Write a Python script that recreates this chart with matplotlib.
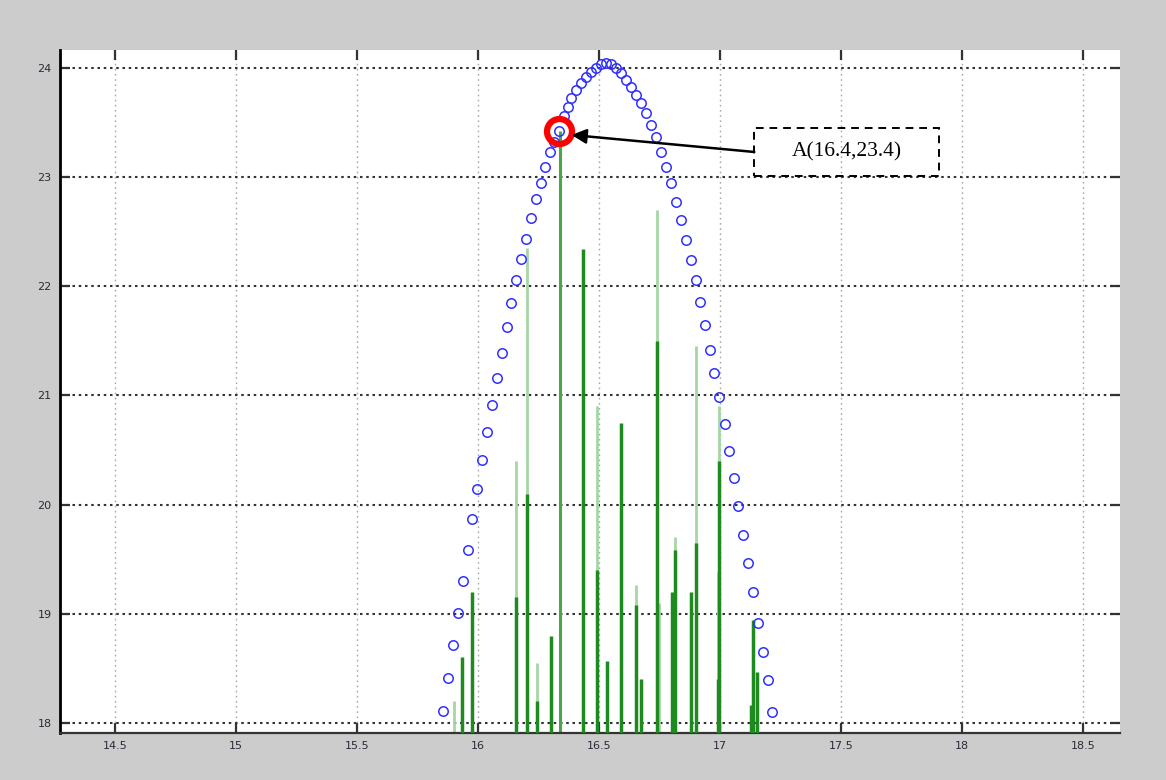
import numpy as np
import matplotlib
matplotlib.use('Agg')
import matplotlib.pyplot as plt
from matplotlib.patches import Rectangle

# blue circles
circ_x = [15.856, 15.876, 15.897, 15.917, 15.938, 15.959, 15.977, 15.998, 16.018, 16.039,
          16.059, 16.080, 16.100, 16.120, 16.138, 16.159, 16.179, 16.200, 16.220, 16.238,
          16.259, 16.278, 16.299, 16.315, 16.335, 16.356, 16.372, 16.386, 16.406, 16.427,
          16.448, 16.468, 16.489, 16.510, 16.530, 16.551, 16.571, 16.592, 16.613, 16.633,
          16.654, 16.675, 16.695, 16.716, 16.737, 16.757, 16.778, 16.799, 16.819, 16.839,
          16.860, 16.880, 16.899, 16.918, 16.940, 16.957, 16.977, 16.998, 17.019, 17.039,
          17.060, 17.076, 17.094, 17.115, 17.138, 17.159, 17.177, 17.197, 17.216]
circ_y = [18.113, 18.409, 18.714, 19.005, 19.303, 19.584, 19.865, 20.140, 20.408, 20.668,
          20.912, 21.157, 21.391, 21.629, 21.843, 22.057, 22.249, 22.432, 22.627, 22.796,
          22.948, 23.094, 23.226, 23.321, 23.421, 23.559, 23.644, 23.721, 23.797, 23.858,
          23.918, 23.964, 24.001, 24.032, 24.041, 24.032, 24.001, 23.950, 23.888, 23.827,
          23.751, 23.675, 23.583, 23.476, 23.366, 23.232, 23.094, 22.942, 22.774, 22.606,
          22.423, 22.240, 22.057, 21.858, 21.645, 21.416, 21.202, 20.985, 20.735, 20.491,
          20.241, 19.987, 19.722, 19.462, 19.202, 18.918, 18.653, 18.394, 18.103]

# green stems
light_x = [15.900, 16.156, 16.201, 16.242, 16.494, 16.535, 16.655, 16.738, 16.750,
           16.816, 16.903, 16.990, 16.998, 17.138]
light_top = [18.20, 20.40, 22.35, 18.55, 20.90, 18.23, 19.26, 22.70, 19.10,
             19.70, 21.45, 19.38, 20.90, 18.80]
mid_x = [16.337]
mid_top = [23.42]
dark_x = [15.933, 15.974, 16.156, 16.201, 16.242, 16.300, 16.436, 16.494, 16.535,
          16.593, 16.655, 16.672, 16.738, 16.800, 16.816, 16.882, 16.903, 16.990,
          16.998, 17.130, 17.138, 17.155]
dark_top = [18.60, 19.20, 19.15, 20.10, 18.20, 18.80, 22.34, 19.40, 18.57,
            20.75, 19.08, 18.40, 21.50, 19.20, 19.58, 19.20, 19.65, 18.40,
            20.40, 18.16, 18.94, 18.47]

pt_x, pt_y = 16.335, 23.421
label = 'A(16.4,23.4)'

xticks = [14.5, 15, 15.5, 16, 16.5, 17, 17.5, 18, 18.5]
yticks = [18, 19, 20, 21, 22, 23, 24]

fig = plt.figure(figsize=(11.66, 7.8), dpi=100, facecolor='#cccccc')
ax = fig.add_axes([0.0515, 0.0603, 0.9090, 0.8756])
ax.set_xlim(14.273, 18.653)
ax.set_ylim(17.908, 24.163)
ybot = 17.908

# grid
for x in xticks:
    ax.axvline(x, color='#a8a8a8', ls=(0, (1.2, 2.5)), lw=1.0, zorder=0)
for y in yticks:
    ax.axhline(y, color='#333333', ls=(0, (1.2, 1.8)), lw=1.5, zorder=0)

ax.vlines(light_x, ybot, light_top, color='#a6d6a6', lw=2.0, zorder=2)
ax.vlines(mid_x, ybot, mid_top, color='#46a846', lw=2.2, zorder=2)
ax.vlines(dark_x, ybot, dark_top, color='#1f8a1f', lw=2.5, zorder=3)

ax.plot(circ_x, circ_y, 'o', mfc='none', mec='#3030ff', ms=6.8, mew=1.1, zorder=4)

ax.plot(pt_x, pt_y, 'o', mfc='none', mec='#ff0000', ms=18, mew=4.5, zorder=5)

# dashed label box
ax.add_patch(Rectangle((17.142, 23.009), 0.764, 0.440, fill=False, ec='black',
                       ls=(0, (4, 3)), lw=1.4, zorder=6))
ax.text(17.524, 23.229, label, ha='center', va='center', fontsize=15.5,
        family='Liberation Serif', zorder=6)
ax.annotate('', xy=(16.387, 23.385), xytext=(17.142, 23.229),
            arrowprops=dict(arrowstyle='-|>', color='black', lw=1.8,
                            mutation_scale=22, shrinkA=0, shrinkB=0), zorder=6)

ax.set_xticks(xticks)
ax.set_xticklabels(['14.5', '15', '15.5', '16', '16.5', '17', '17.5', '18', '18.5'])
ax.set_yticks(yticks)
ax.tick_params(direction='in', length=7, width=1.6, top=True, right=True,
               labelsize=8, labelcolor='#2a2a3a', color='#333333', pad=6)
for s in ['top', 'right']:
    ax.spines[s].set_visible(False)
ax.spines['left'].set_linewidth(2.0)
ax.spines['bottom'].set_linewidth(1.6)
ax.spines['bottom'].set_color('#333333')

fig.savefig('out.png', dpi=100, facecolor=fig.get_facecolor())
